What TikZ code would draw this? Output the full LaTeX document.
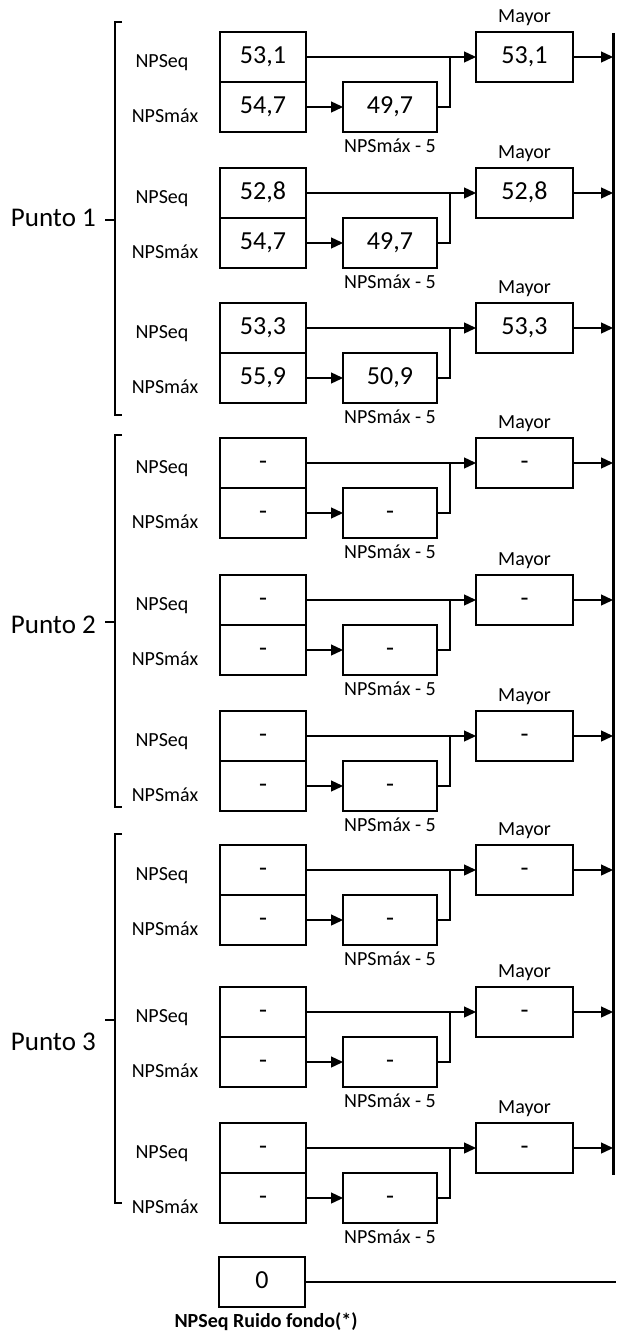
\documentclass[tikz,border=0pt]{standalone}
\usepackage{fontspec}
\setmainfont{Carlito}
\usetikzlibrary{arrows.meta, positioning}

\begin{document}
\begin{tikzpicture}[x=1pt, y=-1pt, node distance=37pt, auto]
        \tikzstyle{block} = [rectangle, draw, line width=2.2pt, minimum width=86pt,
            minimum height=50pt, inner sep=0pt, outer sep=0pt, text height=18pt, text depth=5pt,
            font=\fontsize{26}{28}\selectfont]
        \tikzstyle{tag} = [font=\fontsize{20}{22}\selectfont, inner sep=0pt]
        \tikzstyle{line} = [draw, -{Triangle[length=12pt, width=11pt]}, line width=1.3pt]
        \tikzstyle{wire} = [draw, line width=1.3pt]

        \useasboundingbox (0,0) rectangle (616,1337);

        % collector bar on the right
        \coordinate (bartop) at (613,33);
        \coordinate (barbot) at (613,1175);
        \draw [line width=3pt] (bartop) -- (barbot);

        \foreach \t/\eq/\mx/\rd/\my [count=\k] in {32/53{,}1/54{,}7/49{,}7/53{,}1,
            168/52{,}8/54{,}7/49{,}7/52{,}8, 303/53{,}3/55{,}9/50{,}9/53{,}3,
            438/-/-/-/-, 575/-/-/-/-, 711/-/-/-/-, 845/-/-/-/-, 987/-/-/-/-, 1123/-/-/-/-}{
            \node [block] (eq\k) at (263,\t+25) {\eq};
            \node [block, below=0pt of eq\k] (mx\k) {\mx};
            \node [block, minimum width=94pt, right=of mx\k] (rd\k) {\rd};
            \node [block, minimum width=97pt, right=170pt of eq\k] (my\k) {\my};
            \node [tag] (leq\k) at (162,\t+31) {NPSeq};
            \node [tag] (lmx\k) at (165,\t+84) {NPSmáx};
            \node [tag, below=7pt of rd\k] (lrd\k) {NPSmáx - 5};
            \node [tag, above=6pt of my\k] (lmy\k) {Mayor};
            \coordinate (jn\k) at (450,\t+25);

            \path [line] (eq\k) -- (my\k);
            \path [line] (mx\k) -- (rd\k);
            \path [wire] (rd\k.east) -| (jn\k);
            \path [line] (my\k) -- (my\k -| bartop);
        }

        % brackets of the points
        \foreach \a/\b/\c/\n/\ly in {22/415/220/1/218, 435/807/622/2/625, 834/1203/1020/3/1042}{
            \draw [line width=1.3pt] (122,\a) -- (115,\a) -- (115,\b) -- (122,\b);
            \draw [line width=1.3pt] (105,\c) -- (115,\c);
            \node [anchor=east, inner sep=0pt, font=\fontsize{27}{30}\selectfont] (pt\n) at (96,\ly) {Punto \n};
        }

        \node [block] (zero) at (262,1282) {0};
        \node [tag, font=\fontsize{20}{22}\selectfont\bfseries, below=5pt of zero, xshift=4pt] (lzero) {NPSeq Ruido fondo(*)};
        \coordinate (rim) at (616,1280);
        \path [wire] (zero) -- (zero -| rim);
    \end{tikzpicture}
\end{document}
